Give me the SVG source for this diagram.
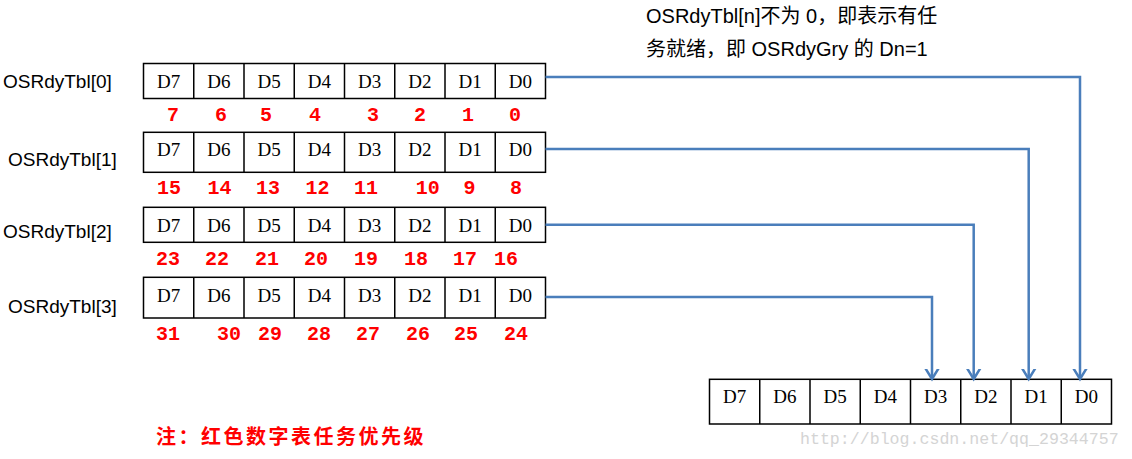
<svg xmlns="http://www.w3.org/2000/svg" width="1132" height="459" viewBox="0 0 1132 459">
<style>
.box{fill:#fff;stroke:#000;stroke-width:1.5}
.div{stroke:#000;stroke-width:1.5}
.cell{font-family:"Liberation Serif","DejaVu Serif",serif;font-size:19px;fill:#000;text-anchor:middle}
.lbl{font-family:"Liberation Sans","Noto Sans",sans-serif;font-size:19px;fill:#000}
.num{font-family:"Liberation Mono","DejaVu Sans Mono",monospace;font-size:20px;font-weight:bold;fill:#ff0000;text-anchor:middle}
.note{font-family:"Liberation Sans","Noto Sans CJK SC",sans-serif;font-size:20px;fill:#000}
.red{font-family:"Noto Sans CJK SC",sans-serif;font-size:20px;font-weight:bold;fill:#ff0000;letter-spacing:2.5px}
.wm{font-family:"Liberation Mono",monospace;font-size:16.6px;fill:#d4d4d4}
.conn{fill:none;stroke:#4a7ebb;stroke-width:2.5}
</style>
<defs>
<marker id="arr" markerUnits="userSpaceOnUse" markerWidth="20" markerHeight="20" viewBox="-10 -10 20 20" refX="0" refY="0" orient="auto">
<path d="M-13,-8 L0,0 L-13,8" fill="none" stroke="#4a7ebb" stroke-width="2.5"/>
</marker>
</defs>

<g id="row0">
<text class="lbl" x="3" y="88">OSRdyTbl[0]</text>
<rect class="box" x="143.5" y="63.5" width="402" height="35"/>
<path class="div" d="M193.75,63.5v35M244,63.5v35M294.25,63.5v35M344.5,63.5v35M394.75,63.5v35M445,63.5v35M495.25,63.5v35"/>
<g class="cell">
<text x="168.6" y="88">D7</text><text x="218.9" y="88">D6</text><text x="269.1" y="88">D5</text><text x="319.4" y="88">D4</text><text x="369.6" y="88">D3</text><text x="419.9" y="88">D2</text><text x="470.1" y="88">D1</text><text x="520.4" y="88">D0</text>
</g>
<g class="num">
<text x="173" y="120.5">7</text><text x="221" y="120.5">6</text><text x="266" y="120.5">5</text><text x="315" y="120.5">4</text><text x="373" y="120.5">3</text><text x="420" y="120.5">2</text><text x="468" y="120.5">1</text><text x="515" y="120.5">0</text>
</g>
</g>

<g id="row1">
<text class="lbl" x="8" y="166">OSRdyTbl[1]</text>
<rect class="box" x="143.5" y="132.3" width="402" height="40"/>
<path class="div" d="M193.75,132.3v40M244,132.3v40M294.25,132.3v40M344.5,132.3v40M394.75,132.3v40M445,132.3v40M495.25,132.3v40"/>
<g class="cell">
<text x="168.6" y="156">D7</text><text x="218.9" y="156">D6</text><text x="269.1" y="156">D5</text><text x="319.4" y="156">D4</text><text x="369.6" y="156">D3</text><text x="419.9" y="156">D2</text><text x="470.1" y="156">D1</text><text x="520.4" y="156">D0</text>
</g>
<g class="num">
<text x="169" y="194">15</text><text x="219.6" y="194">14</text><text x="268" y="194">13</text><text x="317.5" y="194">12</text><text x="366" y="194">11</text><text x="427.7" y="194">10</text><text x="469.6" y="194">9</text><text x="516" y="194">8</text>
</g>
</g>

<g id="row2">
<text class="lbl" x="3" y="238">OSRdyTbl[2]</text>
<rect class="box" x="143.5" y="207.3" width="402" height="35"/>
<path class="div" d="M193.75,207.3v35M244,207.3v35M294.25,207.3v35M344.5,207.3v35M394.75,207.3v35M445,207.3v35M495.25,207.3v35"/>
<g class="cell">
<text x="168.6" y="231.7">D7</text><text x="218.9" y="231.7">D6</text><text x="269.1" y="231.7">D5</text><text x="319.4" y="231.7">D4</text><text x="369.6" y="231.7">D3</text><text x="419.9" y="231.7">D2</text><text x="470.1" y="231.7">D1</text><text x="520.4" y="231.7">D0</text>
</g>
<g class="num">
<text x="168" y="265">23</text><text x="217" y="265">22</text><text x="267" y="265">21</text><text x="316" y="265">20</text><text x="366" y="265">19</text><text x="416" y="265">18</text><text x="465" y="265">17</text><text x="506" y="265">16</text>
</g>
</g>

<g id="row3">
<text class="lbl" x="8" y="313">OSRdyTbl[3]</text>
<rect class="box" x="143.5" y="277.3" width="402" height="40.7"/>
<path class="div" d="M193.75,277.3v40.7M244,277.3v40.7M294.25,277.3v40.7M344.5,277.3v40.7M394.75,277.3v40.7M445,277.3v40.7M495.25,277.3v40.7"/>
<g class="cell">
<text x="168.6" y="302">D7</text><text x="218.9" y="302">D6</text><text x="269.1" y="302">D5</text><text x="319.4" y="302">D4</text><text x="369.6" y="302">D3</text><text x="419.9" y="302">D2</text><text x="470.1" y="302">D1</text><text x="520.4" y="302">D0</text>
</g>
<g class="num">
<text x="168" y="340">31</text><text x="229" y="340">30</text><text x="270" y="340">29</text><text x="319" y="340">28</text><text x="368" y="340">27</text><text x="418" y="340">26</text><text x="466" y="340">25</text><text x="516" y="340">24</text>
</g>
</g>

<g id="osrdygrp">
<rect class="box" x="709.5" y="379.3" width="402" height="44.7"/>
<path class="div" d="M759.75,379.3v44.7M810,379.3v44.7M860.25,379.3v44.7M910.5,379.3v44.7M960.75,379.3v44.7M1011,379.3v44.7M1061.25,379.3v44.7"/>
<g class="cell">
<text x="734.6" y="403">D7</text><text x="784.9" y="403">D6</text><text x="835.1" y="403">D5</text><text x="885.4" y="403">D4</text><text x="935.6" y="403">D3</text><text x="985.9" y="403">D2</text><text x="1036.1" y="403">D1</text><text x="1086.4" y="403">D0</text>
</g>
</g>

<g id="connectors">
<path class="conn" d="M545.5,77H1080V379" marker-end="url(#arr)"/>
<path class="conn" d="M545.5,149H1028.7V379" marker-end="url(#arr)"/>
<path class="conn" d="M545.5,224.7H973.7V379" marker-end="url(#arr)"/>
<path class="conn" d="M545.5,297H932V379" marker-end="url(#arr)"/>
</g>

<g id="note-top">
<text class="note" x="646" y="23">OSRdyTbl[n]不为 0，即表示有任</text>
<text class="note" x="646" y="56">务就绪，即 OSRdyGry 的 Dn=1</text>
</g>

<g id="note-bottom">
<text class="red" x="156" y="444">注：红色数字表任务优先级</text>
</g>

<text class="wm" x="800" y="444">http://blog.csdn.net/qq_29344757</text>
</svg>
